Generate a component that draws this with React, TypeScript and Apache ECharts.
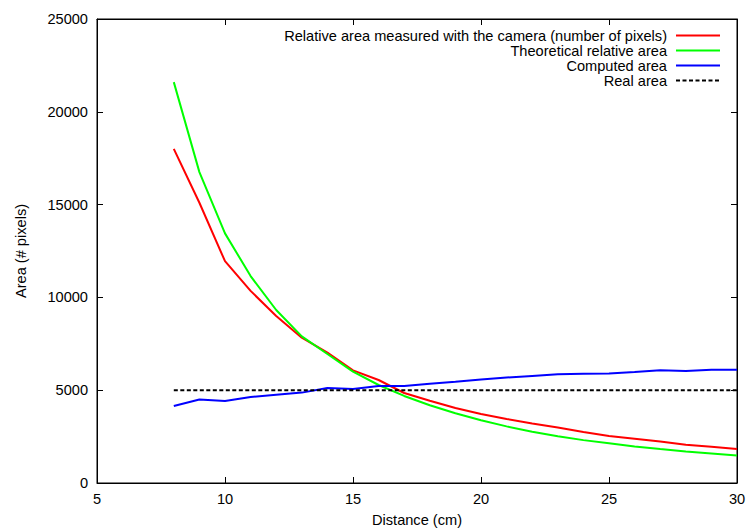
import React, { useEffect, useRef } from "react";
import * as echarts from "echarts";

const distances = [8, 9, 10, 11, 12, 13, 14, 15, 16, 17, 18, 19, 20, 21, 22, 23, 24, 25, 26, 27, 28, 29, 30];
const measuredArea = [18000, 15100, 11950, 10350, 9000, 7830, 7030, 6070, 5550, 4850, 4430, 4040, 3720, 3450, 3200, 2985, 2750, 2530, 2390, 2230, 2060, 1950, 1830];
const theoreticalArea = [21600, 16750, 13450, 11150, 9320, 7900, 6950, 6000, 5280, 4690, 4190, 3760, 3380, 3050, 2760, 2520, 2310, 2140, 1970, 1830, 1700, 1590, 1480];
const computedArea = [4150, 4500, 4420, 4630, 4760, 4870, 5120, 5060, 5230, 5220, 5350, 5450, 5580, 5680, 5770, 5860, 5890, 5900, 5980, 6070, 6040, 6100, 6100];
const realArea = [5000, 5000, 5000, 5000, 5000, 5000, 5000, 5000, 5000, 5000, 5000, 5000, 5000, 5000, 5000, 5000, 5000, 5000, 5000, 5000, 5000, 5000, 5000];
const seriesNames = [
  "Relative area measured with the camera (number of pixels)",
  "Theoretical relative area",
  "Computed area",
  "Real area",
];
const xTicks = { min: 5, max: 30, interval: 5 };
const yTicks = { min: 0, max: 25000, interval: 5000 };

const FONT = "'Liberation Sans', Arial, sans-serif";
const FS = 14.6;

export default function App() {
  const ref = useRef<HTMLDivElement>(null);
  useEffect(() => {
    if (!ref.current) return;
    const chart = echarts.init(ref.current, undefined, { renderer: "svg" });
    const pairs = (ys: number[]) => distances.map((d, i) => [d, ys[i]]);
    const tickStyle = { show: true, inside: true, length: 6, lineStyle: { color: "#000", width: 1 } };
    const mkSeries = (name: string, ys: number[], color: string, dashed = false) => ({
      name,
      type: "line",
      data: pairs(ys),
      showSymbol: false,
      symbol: "none",
      lineStyle: { color, width: 2, type: dashed ? [4, 2.5] : "solid" },
      itemStyle: { color },
      xAxisIndex: 0,
      yAxisIndex: 0,
    });
    chart.setOption({
      animation: false,
      backgroundColor: "#fff",
      textStyle: { fontFamily: FONT },
      grid: {
        left: 97,
        right: 10,
        top: 19,
        bottom: 45,
        outerBoundsMode: "none",
        containLabel: false,
        show: true,
        borderColor: "#000",
        borderWidth: 1,
        backgroundColor: "transparent",
      },
      legend: {
        data: seriesNames,
        orient: "vertical",
        align: "right",
        right: 26,
        top: 28,
        itemWidth: 44,
        itemHeight: 14,
        itemGap: 0,
        padding: 0,
        itemStyle: { opacity: 0, borderWidth: 0 },
        textStyle: { fontFamily: FONT, fontSize: FS, color: "#000", lineHeight: 14, padding: [0, 4, 0, 0] },
      },
      xAxis: [
        {
          type: "value",
          ...xTicks,
          name: "Distance (cm)",
          nameLocation: "middle",
          nameGap: 29,
          nameTextStyle: { fontFamily: FONT, fontSize: FS, color: "#000" },
          axisLine: { show: true, onZero: false, lineStyle: { color: "#000", width: 1 } },
          axisTick: tickStyle,
          axisLabel: { fontFamily: FONT, fontSize: FS, color: "#000", margin: 8 },
          splitLine: { show: false },
        },
        {
          type: "value",
          position: "top",
          ...xTicks,
          axisLine: { show: true, onZero: false, lineStyle: { color: "#000", width: 1 } },
          axisTick: tickStyle,
          axisLabel: { show: false },
          splitLine: { show: false },
        },
      ],
      yAxis: [
        {
          type: "value",
          ...yTicks,
          name: "Area (# pixels)",
          nameLocation: "middle",
          nameRotate: 90,
          nameGap: 69,
          nameTextStyle: { fontFamily: FONT, fontSize: FS, color: "#000" },
          axisLine: { show: true, onZero: false, lineStyle: { color: "#000", width: 1 } },
          axisTick: tickStyle,
          axisLabel: { fontFamily: FONT, fontSize: FS, color: "#000", margin: 9, formatter: (v: number) => String(v) },
          splitLine: { show: false },
        },
        {
          type: "value",
          position: "right",
          ...yTicks,
          axisLine: { show: true, onZero: false, lineStyle: { color: "#000", width: 1 } },
          axisTick: tickStyle,
          axisLabel: { show: false },
          splitLine: { show: false },
        },
      ],
      series: [
        mkSeries(seriesNames[0], measuredArea, "#ff0000"),
        mkSeries(seriesNames[1], theoreticalArea, "#00ff00"),
        mkSeries(seriesNames[2], computedArea, "#0000ff"),
        mkSeries(seriesNames[3], realArea, "#000000", true),
      ],
    });
    return () => chart.dispose();
  }, []);
  return <div ref={ref} style={{ position: "fixed", left: 0, top: 0, width: 747, height: 528 }} />;
}
